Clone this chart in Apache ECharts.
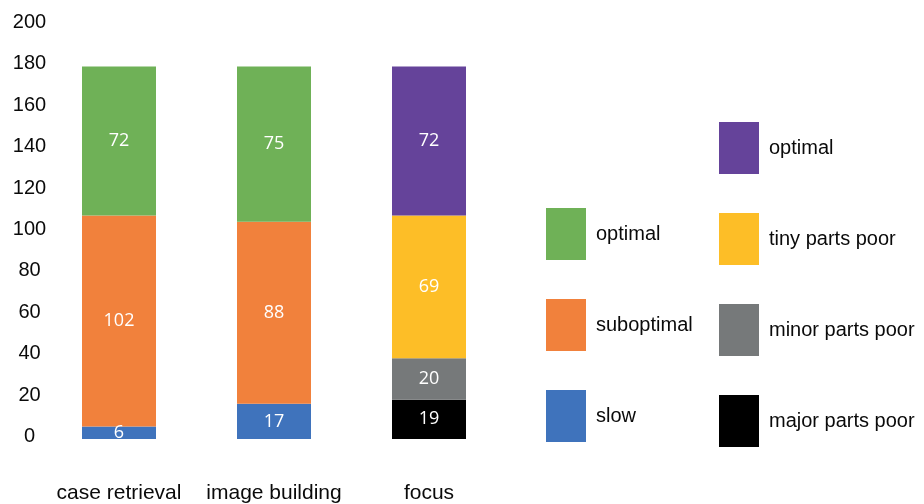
<!DOCTYPE html>
<html>
<head>
<meta charset="utf-8">
<script src="https://cdn.jsdelivr.net/npm/echarts@6/dist/echarts.min.js"></script>
<style>
  html, body { margin: 0; padding: 0; background: #fff; }
  #chart { width: 924px; height: 504px; }
</style>
</head>
<body>
<div id="chart"></div>
<script>
// Task categories along the x axis
const categories = ['case retrieval', 'image building', 'focus'];

// Ratings for case retrieval and image building
const slow = [6, 17, '-'];
const suboptimal = [102, 88, '-'];
const optimal = [72, 75, '-'];

// Ratings for focus
const majorPartsPoor = ['-', '-', 19];
const minorPartsPoor = ['-', '-', 20];
const tinyPartsPoor = ['-', '-', 69];
const focusOptimal = ['-', '-', 72];

// y axis range
const yMin = 0;
const yMax = 200;
const yStep = 20;

const FONT = '"Liberation Sans", Arial, sans-serif';

function barSeries(name, data, color) {
  return {
    name: name,
    type: 'bar',
    stack: 'total',
    data: data,
    barWidth: 74,
    itemStyle: { color: color },
    label: {
      show: true,
      position: 'inside',
      color: '#fff',
      fontFamily: '"Open Sans", sans-serif',
      fontSize: 18,
      formatter: p => p.value
    },
    emphasis: { disabled: true }
  };
}

const legendCommon = {
  orient: 'vertical',
  icon: 'rect',
  padding: 0,
  itemWidth: 40,
  itemHeight: 52,
  itemGap: 39,
  selectedMode: false,
  formatter: name => name.replace(/^focus /, ''),
  textStyle: {
    fontFamily: FONT,
    fontSize: 20,
    color: '#0a0a0a',
    padding: [0, 0, 0, 5]
  }
};

const chart = echarts.init(document.getElementById('chart'), null, { renderer: 'canvas' });

chart.setOption({
  animation: false,
  backgroundColor: '#fff',
  grid: { left: 41.5, right: 417.5, top: 25, bottom: 60 },
  legend: [
    Object.assign({}, legendCommon, {
      left: 546, top: 208,
      data: ['optimal', 'suboptimal', 'slow']
    }),
    Object.assign({}, legendCommon, {
      left: 719, top: 122,
      data: ['focus optimal', 'tiny parts poor', 'minor parts poor', 'major parts poor']
    })
  ],
  xAxis: {
    type: 'category',
    data: categories,
    axisLine: { show: false },
    axisTick: { show: false },
    axisLabel: {
      interval: 0,
      margin: 44,
      fontFamily: FONT,
      fontSize: 21,
      color: '#0a0a0a'
    }
  },
  yAxis: {
    type: 'value',
    min: yMin,
    max: yMax,
    interval: yStep,
    axisLine: { show: false },
    axisTick: { show: false },
    splitLine: { show: false },
    axisLabel: {
      margin: 12,
      align: 'center',
      verticalAlign: 'bottom',
      lineHeight: 5,
      fontFamily: FONT,
      fontSize: 20,
      color: '#0a0a0a'
    }
  },
  series: [
    barSeries('slow', slow, '#3F73BC'),
    barSeries('suboptimal', suboptimal, '#F1813C'),
    barSeries('optimal', optimal, '#6FB157'),
    barSeries('major parts poor', majorPartsPoor, '#000000'),
    barSeries('minor parts poor', minorPartsPoor, '#76797A'),
    barSeries('tiny parts poor', tinyPartsPoor, '#FDBE27'),
    barSeries('focus optimal', focusOptimal, '#65439A')
  ]
});
</script>
</body>
</html>
